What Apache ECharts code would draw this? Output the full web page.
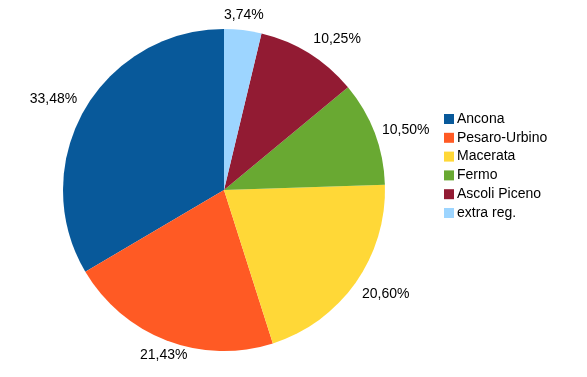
<!DOCTYPE html>
<html>
<head>
<meta charset="utf-8">
<script src="https://cdn.jsdelivr.net/npm/echarts@6/dist/echarts.min.js"></script>
<style>
  html, body { margin: 0; padding: 0; background: #fff; }
  #chartPie { width: 587px; height: 377px; }
</style>
</head>
<body>
<div id="chartPie"></div>
<script>
// province shares (percent)
var provinces = ['Ancona', 'Pesaro-Urbino', 'Macerata', 'Fermo', 'Ascoli Piceno', 'extra reg.'];
var shares = [33.48, 21.43, 20.60, 10.50, 10.25, 3.74];
var colors = ['#08599a', '#ff5a24', '#ffd837', '#69a932', '#921b33', '#9dd5ff'];

var cx = 224, cy = 190, radius = 161, gap = 8;

var total = 0;
for (var i = 0; i < shares.length; i++) total += shares[i];

// mid angle of each slice (deg), counterclockwise from 12 o'clock
function midAngle(idx) {
  var before = 0;
  for (var k = 0; k < idx; k++) before += shares[k];
  return 90 + (before + shares[idx] / 2) / total * 360;
}

var pieData = [];
for (var i = 0; i < provinces.length; i++) {
  pieData.push({ name: provinces[i], value: shares[i], itemStyle: { color: colors[i] } });
}

var chartPie = echarts.init(document.getElementById('chartPie'));
chartPie.setOption({
  animation: false,
  legend: {
    orient: 'vertical',
    left: 444,
    top: 112,
    padding: 0,
    itemWidth: 10,
    itemHeight: 10,
    itemGap: 4.8,
    icon: 'rect',
    data: provinces,
    textStyle: {
      fontFamily: 'Liberation Sans, Arial, sans-serif',
      fontSize: 14,
      lineHeight: 14,
      color: '#000',
      padding: [0, 0, 0, -2]
    }
  },
  series: [
    {
      name: 'Province',
      type: 'pie',
      center: [cx, cy],
      radius: radius,
      startAngle: 90,
      clockwise: false,
      data: pieData,
      itemStyle: { borderWidth: 0 },
      emphasis: { scale: false },
      labelLine: { show: false },
      label: {
        show: true,
        position: 'outside',
        overflow: 'none',
        edgeDistance: 0,
        fontFamily: 'Liberation Sans, Arial, sans-serif',
        fontSize: 14,
        color: '#000',
        formatter: function (p) {
          return p.value.toFixed(2).replace('.', ',') + '%';
        }
      },
      labelLayout: function (p) {
        var a = midAngle(p.dataIndex) * Math.PI / 180;
        var c = Math.cos(a), s = Math.sin(a);
        var r = radius + gap;
        return {
          x: cx + r * c,
          y: cy - r * s,
          align: c > 0.38 ? 'left' : (c < -0.38 ? 'right' : 'center'),
          verticalAlign: s > 0.38 ? 'bottom' : (s < -0.38 ? 'top' : 'middle')
        };
      }
    }
  ]
});
</script>
</body>
</html>
